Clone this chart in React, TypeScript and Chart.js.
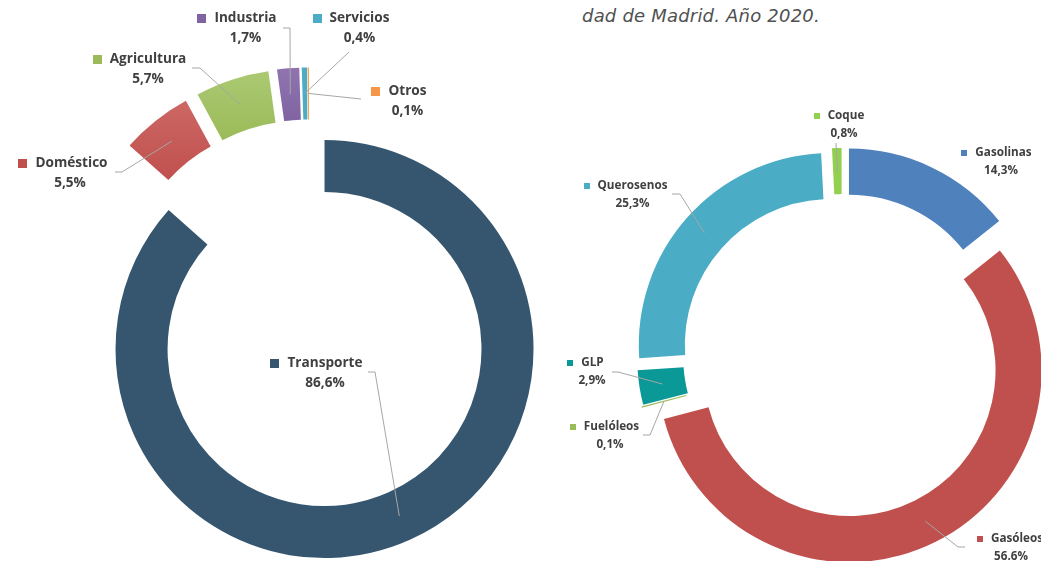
import React, { useEffect, useRef } from "react";
import { Chart, registerables } from "chart.js";
Chart.register(...registerables);

// ---------- data ----------
const leftCategories = ["Transporte", "Doméstico", "Agricultura", "Industria", "Servicios", "Otros"];
const leftValues = [86.6, 5.5, 5.7, 1.7, 0.4, 0.1];

const rightCategories = ["Gasolinas", "Gasóleos", "Fuelóleos", "GLP", "Querosenos", "Coque"];
const rightValues = [14.3, 56.6, 0.1, 2.9, 25.3, 0.8];

const captionText = "dad de Madrid. Año 2020.";

// ---------- styles ----------
const W = 1041;
const H = 561;

const leftColors = ["#36566f", "#c0504d", "#9bbb59", "#8064a2", "#4bacc6", "#f79646"];
const leftTopColors = [null, "#cc6865", "#abc972", "#8f74b0", null, null];
const rightColors = ["#4f81bd", "#c0504d", "#9bbb59", "#0a9996", "#4bacc6", "#92d050"];
const rightTopColors = [null, null, null, null, null, null];

type LabelLayout = { cx: number; cy: number; px?: number; lead?: number[][]; sep?: string };

const leftLabelLayout: LabelLayout[] = [
  { cx: 325, cy: 363, lead: [[368, 372], [375, 372]] },
  { cx: 71.5, cy: 163, px: 70, lead: [[115, 172], [122, 172]] },
  { cx: 148, cy: 59, lead: [[192, 68], [200, 68]] },
  { cx: 245.5, cy: 18, lead: [[283, 28], [290, 28]] },
  { cx: 359.5, cy: 18, lead: [[349, 52]] },
  { cx: 407.5, cy: 91, lead: [[361, 99]] },
];

const rightLabelLayout: LabelLayout[] = [
  { cx: 1003.5, cy: 153, px: 1001 },
  { cx: 1017, cy: 539, px: 1011, sep: ".", lead: [[965, 547], [958, 547]] },
  { cx: 611.5, cy: 427, px: 610, lead: [[643, 435], [650, 435]] },
  { cx: 592.5, cy: 363, px: 592, lead: [[612, 372], [618, 372]] },
  { cx: 632.5, cy: 186, lead: [[672, 194], [680, 194]] },
  { cx: 846, cy: 116, px: 844, lead: [[836, 143]] },
];

const leftExplode = [38, 38, 38, 38, 38, 38];
const rightExplode = [16, 17, 15, 13, 15, 15];

type LabelStyle = { font: string; lineGap: number; square: number; squareGap: number };
const leftLabelStyle: LabelStyle = { font: "bold 13.6px 'Open Sans'", lineGap: 20, square: 9, squareGap: 8 };
const rightLabelStyle: LabelStyle = { font: "bold 11.7px 'Open Sans'", lineGap: 18, square: 6, squareGap: 8 };

function makeExplodePlugin(amounts: number[], topColors: (string | null)[]) {
  return {
    id: "explodeSlices",
    afterDatasetUpdate(chart: any, args: any) {
      const arcs = args.meta.data;
      const ctx: CanvasRenderingContext2D = chart.ctx;
      arcs.forEach((arc: any, i: number) => {
        const e = amounts[i] || 0;
        const mid = (arc.startAngle + arc.endAngle) / 2;
        arc.x += Math.cos(mid) * e;
        arc.y += Math.sin(mid) * e;
        const top = topColors[i];
        if (top && arc.options) {
          const ys: number[] = [];
          [arc.startAngle, arc.endAngle, mid].forEach((a: number) => {
            ys.push(arc.y + Math.sin(a) * arc.outerRadius);
            ys.push(arc.y + Math.sin(a) * arc.innerRadius);
          });
          const y0 = Math.min(...ys);
          const y1 = Math.max(...ys);
          const g = ctx.createLinearGradient(0, y0, 0, y1);
          g.addColorStop(0, top);
          g.addColorStop(1, arc.options.backgroundColor);
          try {
            arc.options = Object.assign({}, arc.options, { backgroundColor: g });
          } catch (err) {
            /* keep solid */
          }
        }
      });
    },
  };
}

function makeLabelPlugin(layout: LabelLayout[], style: LabelStyle, colors: string[]) {
  return {
    id: "sliceLabels",
    afterDatasetsDraw(chart: any) {
      const ctx: CanvasRenderingContext2D = chart.ctx;
      const meta = chart.getDatasetMeta(0);
      const names: string[] = chart.data.labels;
      const values: number[] = chart.data.datasets[0].data;
      ctx.save();
      ctx.strokeStyle = "#a6a6a6";
      ctx.lineWidth = 1;
      layout.forEach((l, i) => {
        if (!l.lead) return;
        const p = meta.data[i].getCenterPoint();
        ctx.beginPath();
        ctx.moveTo(l.lead[0][0], l.lead[0][1]);
        for (let k = 1; k < l.lead.length; k++) ctx.lineTo(l.lead[k][0], l.lead[k][1]);
        ctx.lineTo(p.x, p.y);
        ctx.stroke();
      });
      ctx.font = style.font;
      ctx.textBaseline = "middle";
      layout.forEach((l, i) => {
        const name = names[i];
        const pct = values[i].toFixed(1).replace(".", l.sep ?? ",") + "%";
        const w = ctx.measureText(name).width;
        const left = l.cx - w / 2;
        ctx.fillStyle = colors[i];
        ctx.fillRect(
          Math.round(left - style.squareGap - style.square),
          Math.round(l.cy - style.square / 2),
          style.square,
          style.square
        );
        ctx.fillStyle = "#404040";
        ctx.textAlign = "left";
        ctx.fillText(name, left, l.cy);
        ctx.textAlign = "center";
        ctx.fillText(pct, l.px ?? l.cx, l.cy + style.lineGap);
      });
      ctx.restore();
    },
  };
}

function makeChart(
  canvas: HTMLCanvasElement,
  labels: string[],
  values: number[],
  colors: string[],
  topColors: (string | null)[],
  center: [number, number],
  half: number,
  radius: number,
  cutout: string,
  explode: number[],
  layout: LabelLayout[],
  style: LabelStyle
) {
  return new Chart(canvas, {
    type: "doughnut",
    data: {
      labels,
      datasets: [
        {
          data: values,
          backgroundColor: colors,
          borderWidth: 0,
        },
      ],
    },
    options: {
      animation: false,
      responsive: false,
      maintainAspectRatio: false,
      events: [],
      radius,
      cutout,
      layout: {
        padding: {
          left: center[0] - half,
          right: W - (center[0] + half),
          top: center[1] - half,
          bottom: H - (center[1] + half),
        },
      },
      plugins: {
        legend: { display: false },
        tooltip: { enabled: false },
        title: { display: false },
      },
    } as any,
    plugins: [makeExplodePlugin(explode, topColors), makeLabelPlugin(layout, style, colors)],
  });
}

export default function App() {
  const leftRef = useRef<HTMLCanvasElement>(null);
  const rightRef = useRef<HTMLCanvasElement>(null);

  useEffect(() => {
    if (!leftRef.current || !rightRef.current) return;
    const c1 = makeChart(
      leftRef.current,
      leftCategories,
      leftValues,
      leftColors,
      leftTopColors,
      [309, 314.4],
      240,
      209,
      "75.1%",
      leftExplode,
      leftLabelLayout,
      leftLabelStyle
    );
    const c2 = makeChart(
      rightRef.current,
      rightCategories,
      rightValues,
      rightColors,
      rightTopColors,
      [842, 355],
      195,
      192,
      "76%",
      rightExplode,
      rightLabelLayout,
      rightLabelStyle
    );
    return () => {
      c1.destroy();
      c2.destroy();
    };
  }, []);

  const canvasStyle: React.CSSProperties = {
    position: "absolute",
    left: 0,
    top: 0,
    width: W,
    height: H,
  };

  return (
    <div
      style={{
        position: "absolute",
        left: 0,
        top: 0,
        width: W,
        height: H,
        overflow: "hidden",
        background: "#ffffff",
      }}
    >
      <div
        style={{
          position: "absolute",
          left: 582,
          top: 3,
          fontFamily: "'DejaVu Sans', sans-serif",
          fontStyle: "italic",
          fontSize: 18,
          letterSpacing: "0.2px",
          lineHeight: "26px",
          color: "#505050",
          whiteSpace: "nowrap",
        }}
      >
        {captionText}
      </div>
      <canvas ref={leftRef} width={W} height={H} style={canvasStyle} />
      <canvas ref={rightRef} width={W} height={H} style={canvasStyle} />
    </div>
  );
}
